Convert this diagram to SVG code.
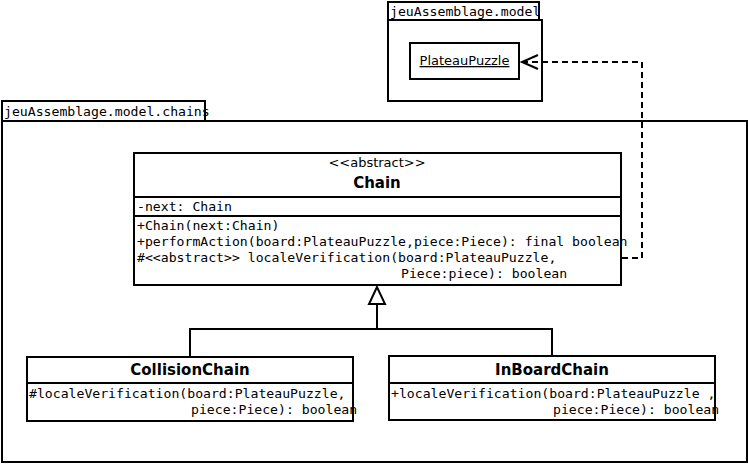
<svg xmlns="http://www.w3.org/2000/svg" width="748" height="464" viewBox="0 0 748 464">
<style>
.box{fill:#fff;stroke:#000;stroke-width:2}
.ln{fill:none;stroke:#000;stroke-width:2}
.mono{font-family:"DejaVu Sans Mono",monospace;font-size:13.15px;fill:#000}
.sans{font-family:"DejaVu Sans",sans-serif;font-size:13px;fill:#000}
.title{font-family:"DejaVu Sans",sans-serif;font-size:15px;font-weight:bold;fill:#000}
</style>
<rect width="748" height="464" fill="#fff"/>
<g id="pkg-model">
<rect class="box" x="388" y="20" width="154" height="81"/>
<rect class="box" x="388" y="2" width="151" height="18"/>
<text class="mono" x="390" y="16">jeuAssemblage.model</text>
</g>
<g id="pkg-chains">
<rect class="box" x="2" y="121" width="745" height="341"/>
<rect class="box" x="2" y="101" width="203" height="20"/>
<text class="mono" x="4" y="116">jeuAssemblage.model.chains</text>
</g>
<g id="PlateauPuzzle">
<rect class="box" x="410" y="43" width="109" height="36"/>
<text class="sans" x="464.5" y="65" text-anchor="middle" text-decoration="underline">PlateauPuzzle</text>
</g>
<g id="Chain">
<rect class="box" x="134" y="153" width="487" height="132"/>
<line class="ln" x1="134" y1="197" x2="621" y2="197"/>
<line class="ln" x1="134" y1="216" x2="621" y2="216"/>
<text class="sans" x="377" y="167" text-anchor="middle">&lt;&lt;abstract&gt;&gt;</text>
<text class="title" x="377" y="188" text-anchor="middle">Chain</text>
<text class="mono" x="137" y="211">-next: Chain</text>
<text class="mono" x="137" y="230">+Chain(next:Chain)</text>
<text class="mono" x="137" y="246">+performAction(board:PlateauPuzzle,piece:Piece): final boolean</text>
<text class="mono" x="137" y="262">#&lt;&lt;abstract&gt;&gt; localeVerification(board:PlateauPuzzle,</text>
<text class="mono" x="401" y="278">Piece:piece): boolean</text>
</g>
<g id="CollisionChain">
<rect class="box" x="27" y="357" width="326" height="64"/>
<line class="ln" x1="27" y1="383" x2="353" y2="383"/>
<text class="title" x="190" y="375" text-anchor="middle">CollisionChain</text>
<text class="mono" x="29" y="398">#localeVerification(board:PlateauPuzzle,</text>
<text class="mono" x="191" y="414">piece:Piece): boolean</text>
</g>
<g id="InBoardChain">
<rect class="box" x="389" y="356" width="326" height="64"/>
<line class="ln" x1="389" y1="383" x2="715" y2="383"/>
<text class="title" x="552" y="375" text-anchor="middle">InBoardChain</text>
<text class="mono" x="391" y="398">+localeVerification(board:PlateauPuzzle ,</text>
<text class="mono" x="553" y="414">piece:Piece): boolean</text>
</g>
<g id="connectors">
<polyline class="ln" points="190,357 190,329 552,329 552,356"/>
<line class="ln" x1="377" y1="329" x2="377" y2="304"/>
<polygon class="box" points="377,287 369,304 385,304"/>
<polyline class="ln" stroke-dasharray="6,4" points="622,258 642,258 642,62 523,62"/>
<polyline class="ln" points="538,55 522,62 538,69"/>
</g>
</svg>
